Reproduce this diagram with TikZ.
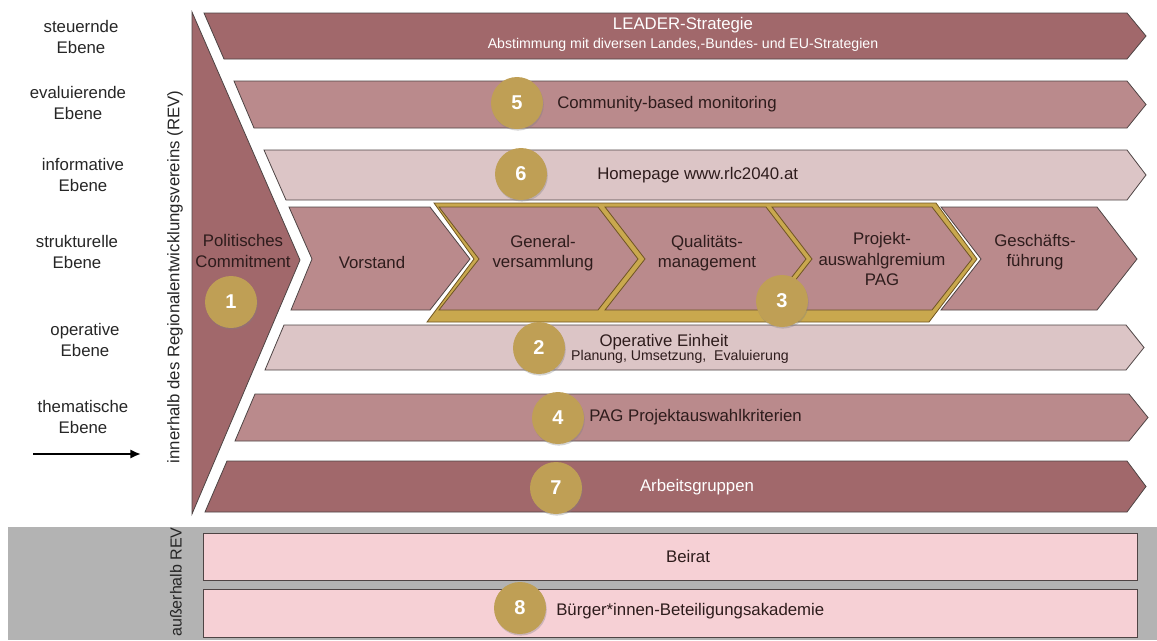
\documentclass[tikz,border=0pt]{standalone}
\usepackage{fontspec}
\setmainfont{Liberation Sans}
\usetikzlibrary{arrows.meta,shadows}

\definecolor{darkrose}{HTML}{A1686B}
\definecolor{midrose}{HTML}{BA8A8C}
\definecolor{lightrose}{HTML}{DCC5C6}
\definecolor{pinkbox}{HTML}{F6D0D5}
\definecolor{outsidegray}{HTML}{B3B3B3}
\definecolor{coingold}{HTML}{BF9F55}
\definecolor{bandgold}{HTML}{C9A84E}
\definecolor{banddark}{HTML}{6F5522}
\definecolor{edgegray}{HTML}{4E4444}
\definecolor{inktext}{HTML}{2E1C1C}

\tikzset{
  shape edge/.style={draw=edgegray, line width=0.6pt},
  level label/.style={align=center, text=black!85, inner sep=0pt, font=\fontsize{12.6}{15.5}\selectfont},
  strip text/.style={align=center, text=inktext, inner sep=0pt, font=\fontsize{12.6}{15.5}\selectfont},
  strip subtext/.style={align=center, inner sep=0pt, font=\fontsize{10.6}{12}\selectfont},
  coin/.style={circle, fill=coingold, text=white, minimum size=39pt, inner sep=0pt,
    font=\bfseries\fontsize{15}{15}\selectfont,
    drop shadow={shadow xshift=0.6pt, shadow yshift=-1.2pt, opacity=0.35}}
}

\begin{document}
\begin{tikzpicture}[x=0.75pt,y=0.75pt,yscale=-1,xscale=1]
\useasboundingbox (0,0) rectangle (1157,640);

%Rectangle: outside the association
\fill[outsidegray] (8,527) rectangle (1157,640);

%Shape: Triangle (political commitment)
\draw[shape edge, fill=darkrose] (192,12) -- (300,260) -- (192,514) -- cycle;

%Shape: Chevron Arrow (steering level)
\draw[shape edge, fill=darkrose] (204,13) -- (1127,13) -- (1146,36) -- (1127,59) -- (224,59) -- cycle;
%Shape: Chevron Arrow (evaluating level)
\draw[shape edge, fill=midrose] (234,81) -- (1127,81) -- (1146,104.5) -- (1127,128) -- (254,128) -- cycle;
%Shape: Chevron Arrow (informative level)
\draw[shape edge, fill=lightrose] (264,150) -- (1127,150) -- (1146,175) -- (1127,200) -- (286,200) -- cycle;

%Shape: Gold band behind the three bodies
\draw[draw=banddark, line width=0.6pt, fill=bandgold] (434,203) -- (936,203) -- (977,259) -- (929,322) -- (427,322) -- (474,259) -- cycle;

%Shape: Chevrons (structural level)
\draw[shape edge, fill=midrose] (289,207) -- (430,207) -- (470,259) -- (430,310) -- (291,310) -- (312,259) -- cycle;
\draw[draw=banddark, line width=0.6pt, fill=midrose] (439,207) -- (598,207) -- (638,259) -- (598,310) -- (439,310) -- (479,259) -- cycle;
\draw[draw=banddark, line width=0.6pt, fill=midrose] (605,207) -- (766,207) -- (806,259) -- (766,310) -- (605,310) -- (645,259) -- cycle;
\draw[draw=banddark, line width=0.6pt, fill=midrose] (772,207) -- (932,207) -- (972,259) -- (932,310) -- (772,310) -- (812,259) -- cycle;
\draw[shape edge, fill=midrose] (941,207) -- (1097,207) -- (1137,259) -- (1097,310) -- (941,310) -- (981,259) -- cycle;

%Shape: Chevron Arrow (operative level)
\draw[shape edge, fill=lightrose] (284,325) -- (1126,325) -- (1144,347.5) -- (1126,370) -- (265,370) -- cycle;
%Shape: Chevron Arrow (thematic level)
\draw[shape edge, fill=midrose] (255,394) -- (1129,394) -- (1148,417.5) -- (1129,441) -- (235,441) -- cycle;
%Shape: Chevron Arrow (working groups)
\draw[shape edge, fill=darkrose] (227,461) -- (1127,461) -- (1146,486.5) -- (1127,512) -- (205,512) -- cycle;

%Rectangles: outside bodies
\draw[shape edge, fill=pinkbox] (203,533) rectangle (1137,580);
\draw[shape edge, fill=pinkbox] (203,589) rectangle (1137,637);

% Level labels on the left
\node[level label] (steuernd) at (81,37) {steuernde\\Ebene};
\node[level label] (evaluierend) at (78,103) {evaluierende\\Ebene};
\node[level label] (informativ) at (83,175) {informative\\Ebene};
\node[level label] (strukturell) at (77,252) {strukturelle\\Ebene};
\node[level label] (operativ) at (85,340) {operative\\Ebene};
\node[level label] (thematisch) at (83,417) {thematische\\Ebene};
\coordinate (pfeilstart) at (33,454);
\coordinate (pfeilende) at (141,454);
\draw[line width=2.2pt, -{Latex[length=8pt,width=7pt]}] (pfeilstart) -- (pfeilende);

% Vertical labels
\node[level label, rotate=90] (innerhalb) at (175,277) {innerhalb des Regionalentwicklungsvereins (REV)};
\node[level label, rotate=90, font=\fontsize{12}{14}\selectfont] (ausserhalb) at (176,582) {außerhalb REV};

% Texts in the arrows
\node[strip text, text=white] (leader) at (683,25) {LEADER-Strategie};
\node[strip subtext, text=white] (abstimmung) at (683,45) {Abstimmung mit diversen Landes,-Bundes- und EU-Strategien};
\node[strip text, anchor=west] (monitoring) at (557,104) {Community-based monitoring};
\node[strip text, anchor=west] (homepage) at (597,175) {Homepage www.rlc2040.at};
\node[strip text] (commitment) at (243,251) {Politisches\\Commitment};
\node[strip text] (vorstand) at (372,262) {Vorstand};
\node[strip text] (gv) at (543,253) {General-\\versammlung};
\node[strip text] (qm) at (707,253) {Qualitäts-\\management};
\node[strip text] (pag) at (882,259) {Projekt-\\auswahlgremium\\PAG};
\node[strip text] (gf) at (1035,252) {Geschäfts-\\führung};
\node[strip text] (einheit) at (664,342) {Operative Einheit};
\node[strip subtext, text=inktext] (planung) at (680,357) {Planung, Umsetzung,\ \ Evaluierung};
\node[strip text, anchor=west] (kriterien) at (589,417) {PAG Projektauswahlkriterien};
\node[strip text, text=white] (arbeitsgruppen) at (697,487) {Arbeitsgruppen};
\node[strip text] (beirat) at (688,556) {Beirat};
\node[strip text, anchor=west] (akademie) at (556,611) {Bürger*innen-Beteiligungsakademie};

% Numbered coins
\node[coin] (n1) at (231,302) {1};
\node[coin] (n2) at (539,348) {2};
\node[coin] (n3) at (782,301) {3};
\node[coin] (n4) at (558,418) {4};
\node[coin] (n5) at (517,103) {5};
\node[coin] (n6) at (521,174) {6};
\node[coin] (n7) at (556,488) {7};
\node[coin] (n8) at (520,608) {8};

\end{tikzpicture}
\end{document}
